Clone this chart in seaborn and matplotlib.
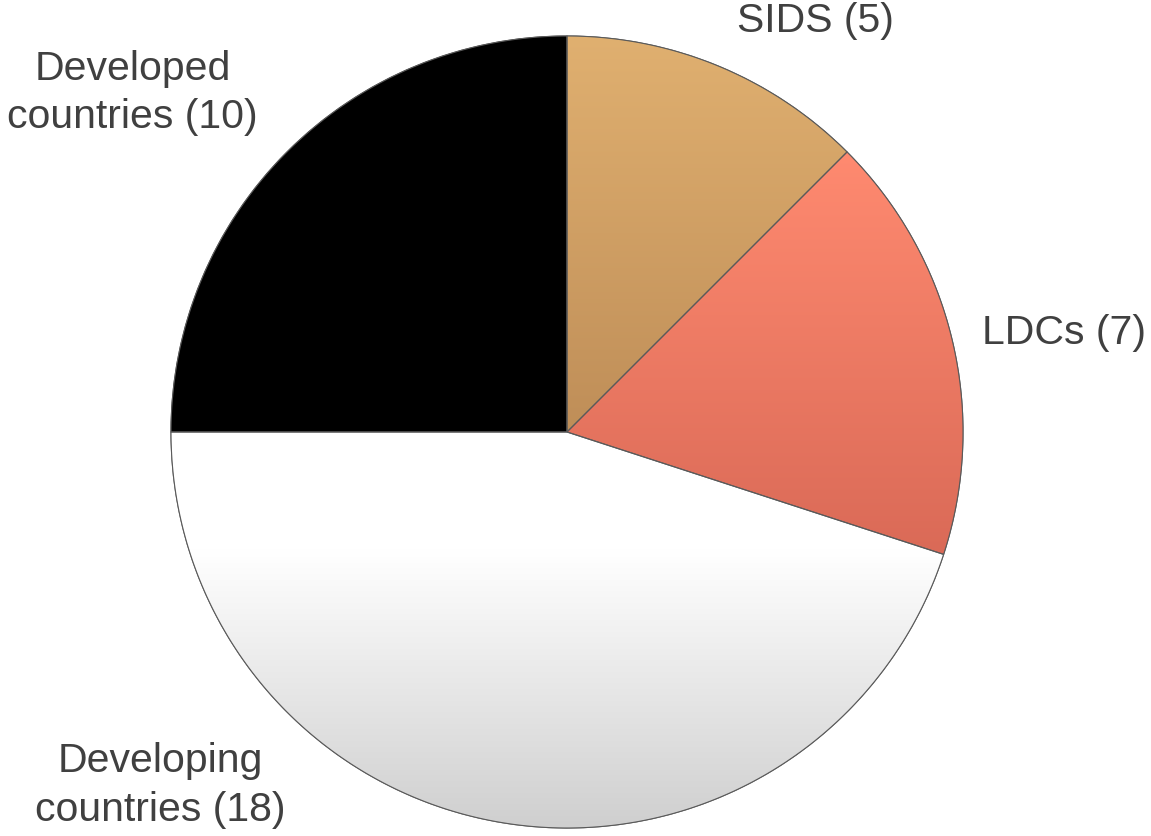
import numpy as np
import matplotlib
matplotlib.use("Agg")
import matplotlib.pyplot as plt
import seaborn as sns
from matplotlib.colors import LinearSegmentedColormap

# data
groups = ["SIDS", "LDCs", "Developing countries", "Developed countries"]
counts = [5, 7, 18, 10]
label_text = ["SIDS (5)", "LDCs (7)", "Developing\ncountries (18)", "Developed\ncountries (10)"]

# colours: top of slice -> bottom of slice
top_colors = ["#E0B070", "#FF8A70", "#FFFFFF", "#000000"]
bottom_colors = ["#BF8E58", "#DA6A57", "#CFCFCF", "#000000"]

sns.set_theme(style="white")
plt.rcParams["font.family"] = ["Liberation Sans", "DejaVu Sans"]

fig = plt.figure(figsize=(11.51, 8.36), dpi=100)
ax = fig.add_axes([0, 0, 1, 1])

wedges, _ = ax.pie(counts, startangle=90, counterclock=False, radius=1,
                   colors=top_colors,
                   wedgeprops=dict(edgecolor="#5a5a5a", linewidth=0.8))

# vertical gradient inside each slice
for i, w in enumerate(wedges):
    t = np.radians(np.linspace(w.theta1, w.theta2, 200))
    xs = np.concatenate([[0], np.cos(t)])
    ys = np.concatenate([[0], np.sin(t)])
    if groups[i] == "Developing countries":
        cmap = LinearSegmentedColormap.from_list(
            "g", [(0, top_colors[i]), (0.3, top_colors[i]), (1, bottom_colors[i])])
    else:
        cmap = LinearSegmentedColormap.from_list("g", [top_colors[i], bottom_colors[i]])
    grad = np.linspace(0, 1, 256).reshape(-1, 1)
    im = ax.imshow(grad, cmap=cmap, aspect="auto", interpolation="bicubic",
                   extent=[xs.min(), xs.max(), ys.min(), ys.max()], origin="upper",
                   zorder=w.get_zorder() + 0.1)
    im.set_clip_path(w)
    edge = plt.Polygon(np.column_stack([xs, ys]), closed=True, fill=False,
                       edgecolor="#5a5a5a", linewidth=0.8, zorder=w.get_zorder() + 0.2)
    ax.add_patch(edge)

# label anchors (pie radius units) and alignment, Excel-style outside labels
label_pos = [(0.429, 1.038), (1.048, 0.25), (-1.028, -0.893), (-0.780, 0.856)]
label_ha = ["left", "left", "center", "right"]
for txt, (lx, ly), ha in zip(label_text, label_pos, label_ha):
    ax.text(lx, ly, txt, ha=ha, va="center", multialignment="center",
            fontsize=29.5, color="#404040", linespacing=1.35)

ax.set_xlim(-567 / 396, (1151 - 567) / 396)
ax.set_ylim(-(836 - 432) / 396, 432 / 396)
ax.set_aspect("equal")
ax.axis("off")

fig.savefig("out.png", dpi=100)
